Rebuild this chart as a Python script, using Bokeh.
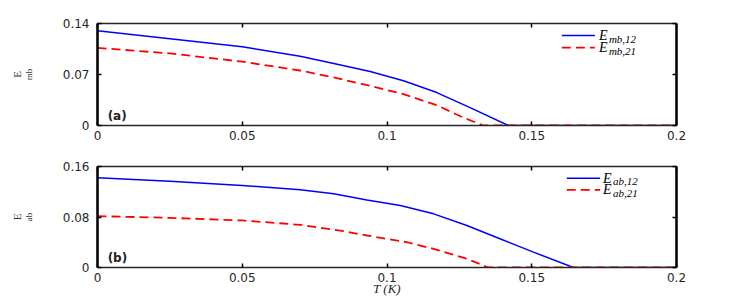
from bokeh.plotting import figure
from bokeh.models import (FixedTicker, LinearAxis, Label, Arrow, Range1d, Title)
from bokeh.layouts import column
from bokeh.embed import file_html
from bokeh.resources import INLINE

# ---------------- data ----------------
# panel (a)
t_mb12 = [0.0, 0.025, 0.05, 0.07, 0.0816, 0.0942, 0.1057, 0.1172, 0.1287, 0.1419, 0.2]
e_mb12 = [0.130, 0.119, 0.108, 0.095, 0.0852, 0.0742, 0.0615, 0.0452, 0.0246, 0.0, 0.0]
t_mb21 = [0.0, 0.025, 0.05, 0.07, 0.0816, 0.0931, 0.1057, 0.1172, 0.1264, 0.1333, 0.2]
e_mb21 = [0.1065, 0.099, 0.0876, 0.0755, 0.0659, 0.0555, 0.043, 0.0278, 0.0108, 0.0, 0.0]
# panel (b)
t_ab12 = [0.0, 0.025, 0.05, 0.07, 0.0816, 0.0931, 0.1046, 0.1161, 0.1276, 0.139, 0.1506, 0.1644, 0.2]
e_ab12 = [0.142, 0.1367, 0.130, 0.123, 0.1167, 0.107, 0.0982, 0.085, 0.0665, 0.0455, 0.0243, 0.0, 0.0]
t_ab21 = [0.0, 0.025, 0.05, 0.07, 0.085, 0.0931, 0.1069, 0.1161, 0.1276, 0.135, 0.2]
e_ab21 = [0.0813, 0.0787, 0.0745, 0.0676, 0.0575, 0.0507, 0.040, 0.0296, 0.0138, 0.0, 0.0]

x_ticks = [0, 0.05, 0.1, 0.15, 0.2]
x_tick_labels = ["0", "0.05", "0.1", "0.15", "0.2"]
ya_ticks = [0, 0.07, 0.14]
ya_tick_labels = ["0", "0.07", "0.14"]
yb_ticks = [0, 0.08, 0.16]
yb_tick_labels = ["0", "0.08", "0.16"]

BLUE = "#0000FF"
RED = "#FF0000"
AX = "#262626"
TICK_FONT = "DejaVu Sans"
SERIF = "Liberation Serif"


def make_panel(ymax, yticks, ylabels, top_border, bottom_border, frame_h, ysub):
    p = figure(frame_width=579, frame_height=frame_h,
               x_range=Range1d(0, 0.2), y_range=Range1d(0, ymax),
               output_backend="svg", toolbar_location=None,
               min_border_left=97, min_border_right=60,
               min_border_top=top_border, min_border_bottom=bottom_border)
    p.background_fill_color = "white"
    p.border_fill_color = "white"
    p.grid.visible = False
    p.outline_line_color = AX
    p.outline_line_width = 1.2

    xa = p.below[0]
    ya = p.left[0]
    xa.ticker = FixedTicker(ticks=x_ticks)
    ya.ticker = FixedTicker(ticks=yticks)
    xa.major_label_overrides = {t: l for t, l in zip(x_ticks, x_tick_labels)}
    ya.major_label_overrides = {t: l for t, l in zip(yticks, ylabels)}
    for ax in (xa, ya):
        ax.minor_tick_line_color = None
        ax.major_tick_in = 4
        ax.major_tick_out = 0
        ax.major_tick_line_color = "black"
        ax.major_tick_line_width = 1.5
        ax.major_label_text_font = TICK_FONT
        ax.major_label_text_font_size = "12px"
        ax.major_label_text_color = AX
    xa.axis_line_color = AX
    xa.axis_line_width = 1.5
    xa.major_label_standoff = 5
    ya.axis_line_color = "black"
    ya.axis_line_width = 2.5
    ya.major_label_standoff = 8

    # y label: subscript as the axis label, "E" as a left title just outside it
    ya.axis_label = ysub
    ya.axis_label_text_font = SERIF
    ya.axis_label_text_font_style = "normal"
    ya.axis_label_text_font_size = "9px"
    ya.axis_label_text_color = "#333333"
    ya.axis_label_standoff = 26
    p.add_layout(Title(text="E", text_font=SERIF, text_font_size="11px",
                       text_font_style="normal", text_color="#333333",
                       align="center", offset=-6, standoff=-4), "left")

    # mirrored tick axes (MATLAB box), no labels drawn
    top = LinearAxis(ticker=FixedTicker(ticks=x_ticks))
    right = LinearAxis(ticker=FixedTicker(ticks=yticks))
    for ax in (top, right):
        ax.major_label_text_color = None
        ax.minor_tick_line_color = None
        ax.major_tick_in = 4
        ax.major_tick_out = 0
        ax.major_tick_line_color = "black"
        ax.major_tick_line_width = 1.5
        ax.major_label_standoff = 0
    top.axis_line_color = AX
    top.axis_line_width = 1.5
    right.axis_line_color = "black"
    right.axis_line_width = 2.5
    p.add_layout(top, "above")
    p.add_layout(right, "right")
    return p


def add_legend(p, x0, x1, xt, y1, y2, sub1, sub2):
    p.add_layout(Arrow(end=None, x_start=x0, y_start=y1, x_end=x1, y_end=y1,
                       line_color=BLUE, line_width=1.5))
    p.add_layout(Arrow(end=None, x_start=x0, y_start=y2, x_end=x1, y_end=y2,
                       line_color=RED, line_width=1.8, line_dash="9 5"))
    for y, sub in ((y1, sub1), (y2, sub2)):
        p.add_layout(Label(x=xt, y=y, text="E", text_font=SERIF,
                           text_font_style="italic", text_font_size="14px",
                           text_baseline="middle", text_color="black"))
        p.add_layout(Label(x=xt, y=y, x_offset=10, y_offset=-3, text=sub,
                           text_font=SERIF, text_font_style="italic",
                           text_font_size="11px", text_baseline="middle",
                           text_color="black"))


# ---------------- panel (a) ----------------
p1 = make_panel(0.14, ya_ticks, ya_tick_labels, 23, 26, 102, "mb")
p1.line(t_mb12, e_mb12, line_color=BLUE, line_width=1.5)
p1.line(t_mb21, e_mb21, line_color=RED, line_width=1.8, line_dash="9 5")
add_legend(p1, 0.1604, 0.1718, 0.1732, 0.1234, 0.1069, "mb,12", "mb,21")
p1.add_layout(Label(x=0.0035, y=0.003, text="(a)", text_font=TICK_FONT,
                    text_font_style="bold", text_font_size="12px",
                    text_baseline="bottom", text_color="#222222"))

# ---------------- panel (b) ----------------
p2 = make_panel(0.16, yb_ticks, yb_tick_labels, 15, 34, 101, "ab")
p2.line(t_ab12, e_ab12, line_color=BLUE, line_width=1.5)
p2.line(t_ab21, e_ab21, line_color=RED, line_width=1.8, line_dash="9 5")
add_legend(p2, 0.1621, 0.1736, 0.1746, 0.1414, 0.1231, "ab,12", "ab,21")
p2.add_layout(Label(x=0.0035, y=0.004, text="(b)", text_font=TICK_FONT,
                    text_font_style="bold", text_font_size="12px",
                    text_baseline="bottom", text_color="#222222"))
# x axis label "T (K)" on the bottom axis of panel (b)
xa2 = p2.below[0]
xa2.axis_label = "T (K)"
xa2.axis_label_text_font = SERIF
xa2.axis_label_text_font_style = "italic"
xa2.axis_label_text_font_size = "13px"
xa2.axis_label_text_color = AX
xa2.axis_label_standoff = -4

layout = column(p1, p2, spacing=0)
open("out.html", "w").write(file_html(layout, INLINE))
